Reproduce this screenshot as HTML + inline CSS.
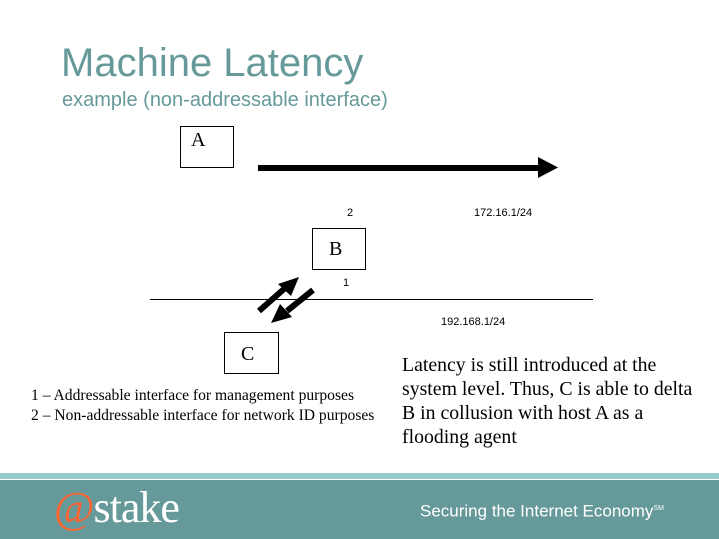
<!DOCTYPE html>
<html><head><meta charset="utf-8"><style>
body{margin:0;width:719px;height:539px;position:relative;background:#fff;overflow:hidden;font-family:"Liberation Serif",serif}
.a{position:absolute;white-space:nowrap}
.box{position:absolute;border:1px solid #000;box-sizing:border-box}
.s{font-family:"Liberation Sans",sans-serif}
</style></head><body>
<div class="a s" style="left:61px;top:39px;font-size:40px;color:#669999;line-height:48px">Machine Latency</div>
<div class="a s" style="left:62px;top:89px;font-size:20px;color:#669999;line-height:22px">example (non-addressable interface)</div>

<div class="box" style="left:180px;top:126px;width:54px;height:42px"></div>
<div class="a" style="left:191px;top:129px;font-size:20px;line-height:22px">A</div>
<div class="box" style="left:312px;top:228px;width:54px;height:42px"></div>
<div class="a" style="left:329px;top:238px;font-size:20px;line-height:22px">B</div>
<div class="box" style="left:224px;top:332px;width:55px;height:42px"></div>
<div class="a" style="left:241px;top:343px;font-size:20px;line-height:22px">C</div>

<svg class="a" style="left:0;top:0" width="719" height="539">
<rect x="258" y="165" width="282" height="6" fill="#000"/>
<polygon points="538,157 558,167.5 538,178" fill="#000"/>
<line x1="150" y1="299.5" x2="593" y2="299.5" stroke="#000" stroke-width="1"/>
<line x1="259" y1="311" x2="284" y2="289" stroke="#000" stroke-width="6"/>
<polygon points="299,277 291,296 278,284" fill="#000"/>
<line x1="313" y1="290" x2="287" y2="311" stroke="#000" stroke-width="6"/>
<polygon points="271,323 280,304 292,317" fill="#000"/>
</svg>

<div class="a s" style="left:347px;top:207px;font-size:11px;line-height:12px">2</div>
<div class="a s" style="left:474px;top:207px;font-size:11px;line-height:12px">172.16.1/24</div>
<div class="a s" style="left:343px;top:277px;font-size:11px;line-height:12px">1</div>
<div class="a s" style="left:441px;top:316px;font-size:11px;line-height:12px">192.168.1/24</div>

<div class="a" style="left:31px;top:386px;font-size:15.6px;line-height:20px">1 – Addressable interface for management purposes<br>2 – Non-addressable interface for network ID purposes</div>
<div class="a" style="left:402px;top:353px;font-size:19.8px;line-height:24px">Latency is still introduced at the<br>system level. Thus, C is able to delta<br>B in collusion with host A as a<br>flooding agent</div>

<div class="a" style="left:0;top:473px;width:719px;height:6px;background:#99cccc"></div>
<div class="a" style="left:0;top:480px;width:719px;height:59px;background:#669999"></div>
<div class="a" style="left:54px;top:483px;font-size:44px;line-height:50px;color:#fff;letter-spacing:-1px"><span style="color:#ff6633">@</span>stake</div>
<div class="a s" style="left:420px;top:499px;font-size:17px;line-height:20px;color:#fff">Securing the Internet Economy<sup style="font-size:7px">SM</sup></div>
</body></html>
